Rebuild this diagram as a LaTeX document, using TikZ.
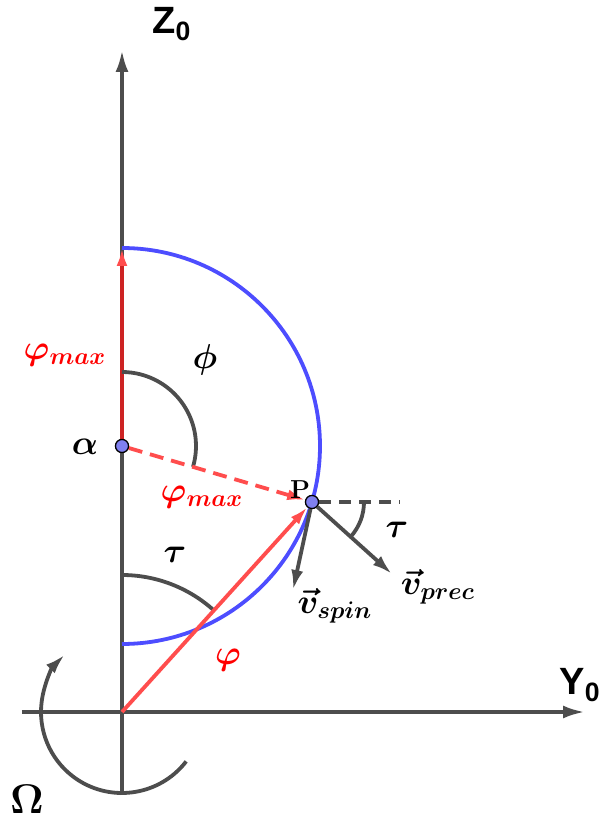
\documentclass[tikz,border=0pt]{standalone}
\usepackage{amsmath,amssymb}
\usepackage{fontspec}
\setsansfont{Liberation Sans}
\usepackage{tikz}
\usetikzlibrary{arrows.meta,calc}
\usepackage{xcolor}

\definecolor{axisgray}{RGB}{77,77,77}
\definecolor{arcblue}{RGB}{77,77,255}
\definecolor{vecred}{RGB}{255,77,77}
\definecolor{darkred}{RGB}{205,35,35}
\definecolor{ptblue}{RGB}{128,128,240}

\begin{document}
\begin{tikzpicture}[x=0.5pt,y=0.5pt,
  axis/.style={draw=axisgray, line width=1.9pt, -{Latex[length=11pt,width=6.5pt]}},
  redvec/.style={draw=vecred, line width=1.9pt, -{Latex[length=9pt,width=5.5pt,color=vecred]}},
  grayvec/.style={draw=axisgray, line width=1.9pt, -{Latex[length=10pt,width=6pt]}},
  anglearc/.style={draw=axisgray, line width=1.9pt},
  pt/.style={circle, draw=black, fill=ptblue, inner sep=0pt, minimum size=6.5pt, line width=0.6pt},
  lbl/.style={font=\fontsize{17}{19}\selectfont\boldmath},
  axlbl/.style={font=\fontsize{19}{21}\selectfont\sffamily\bfseries}]
  \useasboundingbox (-122,-108) rectangle (486,712);

  % Fixed points
  \coordinate (O) at (0,0);
  \coordinate (T) at (0,464);
  \coordinate (Zb) at (0,-83);
  \coordinate (Zt) at (0,662);
  \coordinate (Yl) at (-100,0);
  \coordinate (Yr) at (463,0);
  \coordinate (H) at (278,210);
  \coordinate (Vp) at (270,138);
  \coordinate (Vs) at (171,122);

  % Axes
  \draw[axis] (Zb) -- (Zt);
  \draw[axis] (Yl) -- (Yr);
  \node[axlbl] (zlab) at (50,688) {Z\textsubscript{0}};
  \node[axlbl] (ylab) at (458,27) {Y\textsubscript{0}};

  % Points alpha and P
  \node[pt] (A) at (0,266) {};
  \node[pt] (P) at (190,210) {};

  % Vector alpha -> top, under the circle
  \draw[redvec, draw=darkred] (A) -- (T);

  % Circle of the spin, centre alpha
  \draw[arcblue, line width=1.9pt] ($(A)+(90:198)$) arc[start angle=90, end angle=-90, radius=198];

  % Angle arcs
  \draw[anglearc] ($(A)+(90:74)$) arc[start angle=90, end angle=-16.4, radius=74];
  \draw[anglearc] ($(O)+(90:137)$) arc[start angle=90, end angle=47.9, radius=137];
  \draw[anglearc] ($(P)+(0:52)$) arc[start angle=0, end angle=-42.1, radius=52];

  % Rotation Omega
  \draw[axisgray, line width=1.9pt, -{Latex[length=10pt,width=6pt]}]
    ($(O)+(-37.6:81)$) arc[start angle=-37.6, end angle=-225, radius=81];

  % Vectors
  \draw[redvec, dashed, dash pattern=on 7pt off 4pt] (A) -- (P);
  \draw[redvec] (O) -- (P);
  \draw[axisgray, line width=1.9pt, dash pattern=on 6pt off 4pt] (P) -- (H);
  \draw[grayvec] (P) -- (Vp);
  \draw[grayvec] (P) -- (Vs);
  \node[pt] at (P) {};
  \node[pt] at (A) {};

  % Labels
  \node[lbl, red] (phimaxa) at (-57,357) {$\varphi_{max}$};
  \node[lbl] (philab) at (83,352) {$\phi$};
  \node[lbl] (alab) at (-37,265) {$\alpha$};
  \node[font=\fontsize{13}{15}\selectfont\bfseries] (plab) at (178,222) {P};
  \node[lbl, red] (phimaxb) at (80,215) {$\varphi_{max}$};
  \node[lbl] (taua) at (53,157) {$\tau$};
  \node[lbl] (taub) at (275,182) {$\tau$};
  \node[lbl] (vslab) at (213,106) {$\vec{v}_{spin}$};
  \node[lbl] (vplab) at (316,125) {$\vec{v}_{prec}$};
  \node[lbl, red] (philabb) at (106,52) {$\varphi$};
  \node[lbl, font=\fontsize{20}{22}\selectfont\boldmath] (omlab) at (-95,-87) {$\mathbf{\Omega}$};
\end{tikzpicture}
\end{document}
